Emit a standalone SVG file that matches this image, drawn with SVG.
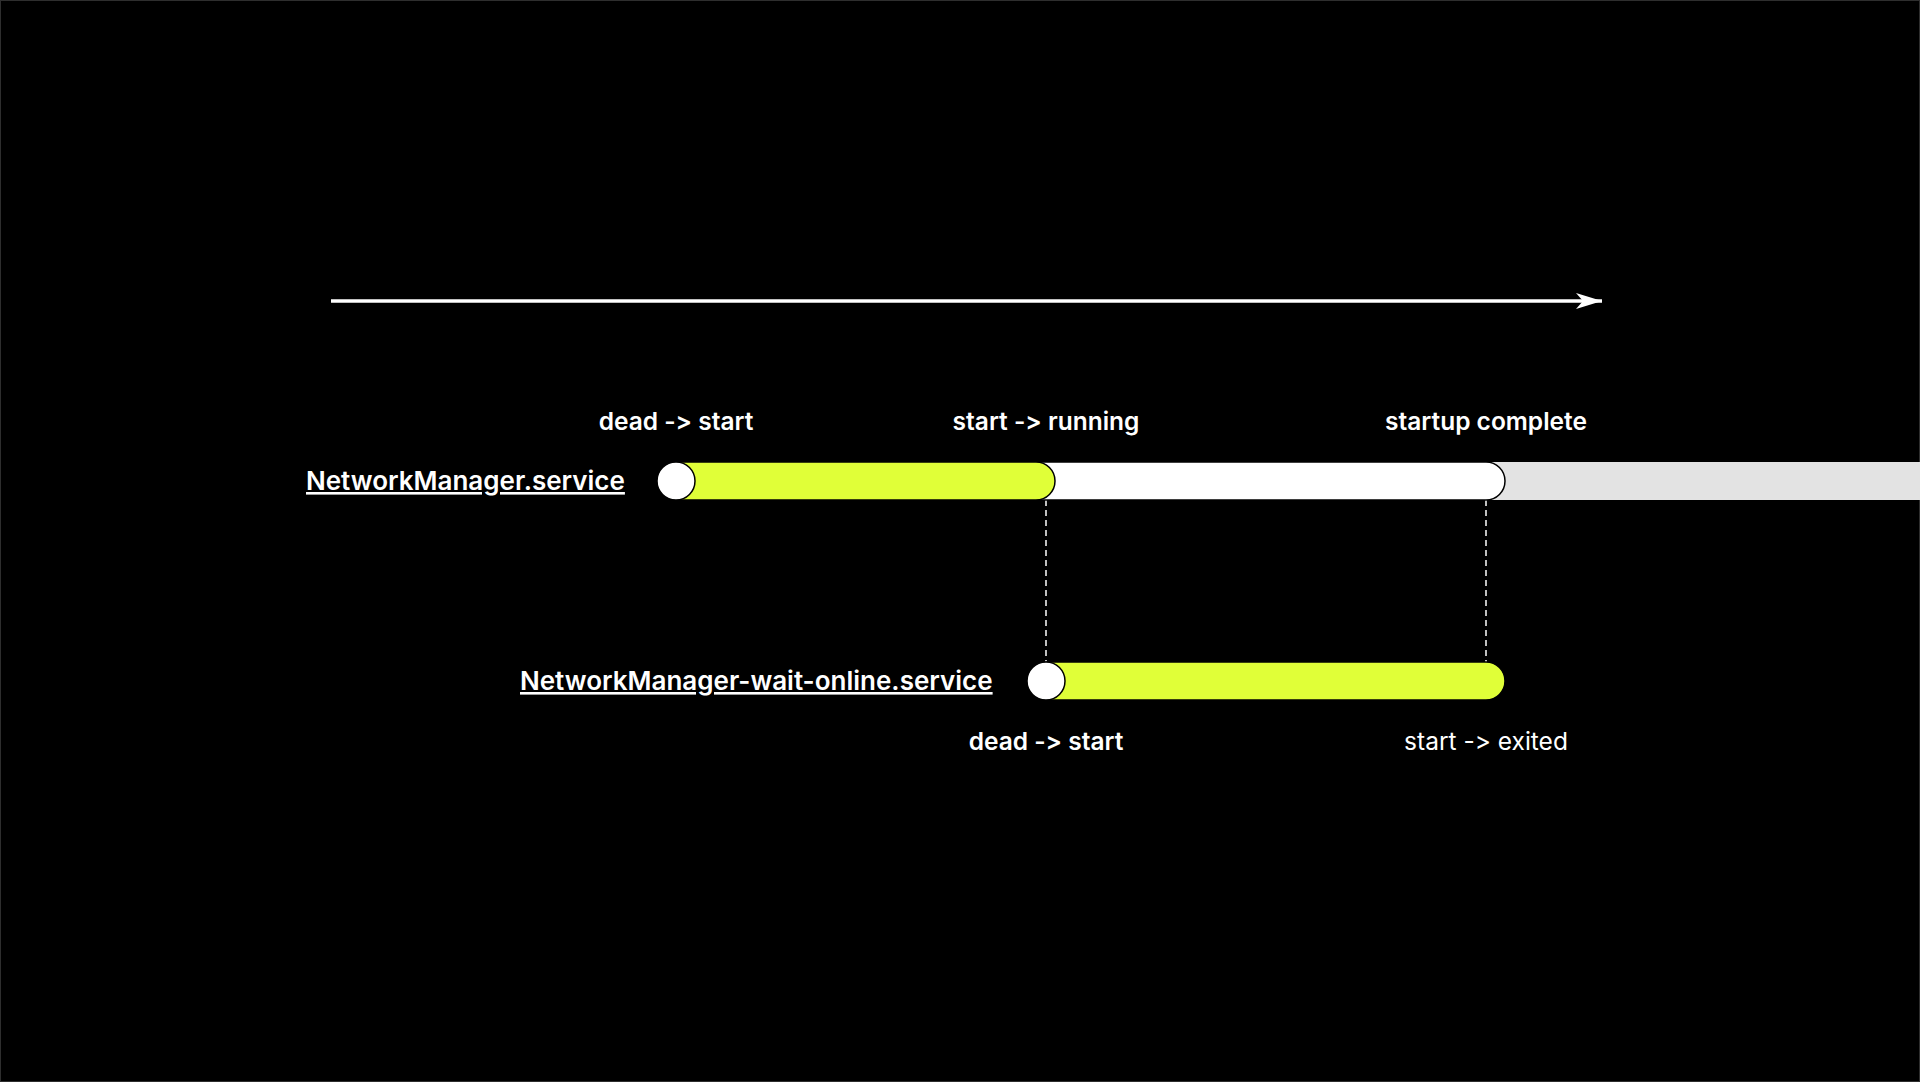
<svg xmlns="http://www.w3.org/2000/svg" width="1920" height="1082" viewBox="0 0 1920 1082">
  <defs>
    <style>
      text { font-feature-settings: "calt" 0, "liga" 0; font-variant-ligatures: none; }
      .lbl { font-family: Inter, "Liberation Sans", sans-serif; font-weight: 600; font-size: 24.5px; fill: #ffffff; text-anchor: middle; }
      .lblr { font-family: Inter, "Liberation Sans", sans-serif; font-weight: 400; font-size: 24.5px; fill: #ffffff; text-anchor: middle; }
      .svc { font-family: Inter, "Liberation Sans", sans-serif; font-weight: 600; font-size: 26px; fill: #ffffff; text-decoration: underline; }
      .green { fill: #e0ff38; stroke: #000000; stroke-width: 1.5; }
      .white { fill: #ffffff; stroke: #000000; stroke-width: 1.5; }
      .dot { fill: #ffffff; stroke: #000000; stroke-width: 1.5; }
      .dash { stroke: #ffffff; stroke-width: 1.5; stroke-dasharray: 6 4; fill: none; }
    </style>
    <marker id="arrow" markerWidth="26" markerHeight="16" refX="26" refY="8" orient="auto" markerUnits="userSpaceOnUse">
      <path d="M0,0 L26,8 L0,16 L7,8 Z" fill="#ffffff"/>
    </marker>
  </defs>
  <rect x="0" y="0" width="1920" height="1082" fill="#000000"/>
  <rect x="0.5" y="0.5" width="1919" height="1081" fill="none" stroke="#2e2e2e" stroke-width="1"/>

  <g id="connectors">
    <line id="timeline" x1="331" y1="301" x2="1602" y2="301" stroke="#ffffff" stroke-width="3.5" marker-end="url(#arrow)"/>
    <line x1="1046" y1="500" x2="1046" y2="662" class="dash"/>
    <line x1="1486" y1="500" x2="1486" y2="662" class="dash"/>
  </g>

  <g id="nm-service">
    <rect x="1480" y="462" width="440" height="38" fill="#e3e3e3"/>
    <path class="white" d="M1040,462 H1486 A19,19 0 0 1 1486,500 H1040 Z"/>
    <path class="green" d="M676,462 H1036 A19,19 0 0 1 1036,500 H676 Z"/>
    <circle class="dot" cx="676" cy="481" r="19"/>
    <text class="svc" x="306" y="490">NetworkManager.service</text>
  </g>

  <g id="nm-wait-online">
    <path class="green" d="M1046,662 H1486 A19,19 0 0 1 1486,700 H1046 Z"/>
    <circle class="dot" cx="1046" cy="681" r="19"/>
    <text class="svc" x="520" y="690">NetworkManager-wait-online.service</text>
  </g>

  <g id="labels">
    <text class="lbl" x="676" y="430">dead -&gt; start</text>
    <text class="lbl" x="1046" y="430">start -&gt; running</text>
    <text class="lbl" x="1486" y="430">startup complete</text>
    <text class="lbl" x="1046" y="750">dead -&gt; start</text>
    <text class="lblr" x="1486" y="750">start -&gt; exited</text>
  </g>
</svg>
